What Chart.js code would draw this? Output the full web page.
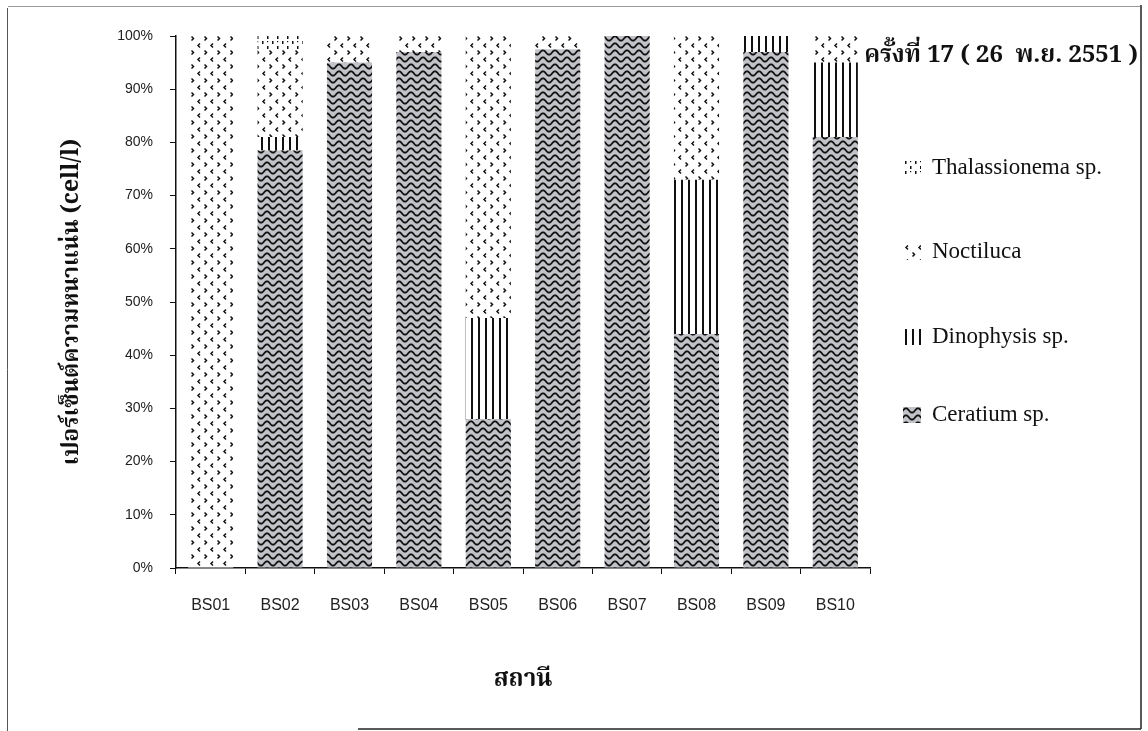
<!DOCTYPE html>
<html>
<head>
<meta charset="utf-8">
<script src="https://cdn.jsdelivr.net/npm/chart.js@4"></script>
<style>
  html, body { margin: 0; padding: 0; background: #fff; }
  #wrap { position: relative; width: 1148px; height: 731px; }
</style>
</head>
<body>
<div id="wrap"><canvas id="chart" width="1148" height="731"></canvas></div>
<script>
// สถานี และค่าร้อยละของแต่ละชนิด (อ่านจากกราฟ)
const stations = ['BS01', 'BS02', 'BS03', 'BS04', 'BS05', 'BS06', 'BS07', 'BS08', 'BS09', 'BS10'];
const ceratium = [0, 78.5, 95, 97, 28, 97.5, 100, 44, 97, 81];
const dinophysis = [0, 2.5, 0, 0, 19, 0, 0, 29, 3, 14];
const noctiluca = [100, 16.5, 5, 3, 53, 2.5, 0, 27, 0, 5];
const thalassionema = [0, 2.5, 0, 0, 0, 0, 0, 0, 0, 0];
const seriesNames = ['Ceratium sp.', 'Dinophysis sp.', 'Noctiluca', 'Thalassionema sp.'];

const chartTitle = 'ครั้งที่ 17 ( 26  พ.ย. 2551 )';
const yTitle = 'เปอร์เซ็นต์ความหนาแน่น (cell/l)';
const xTitle = 'สถานี';

const thaiFont = "'Noto Serif Thai','Noto Sans Thai','Norasi','Garuda','Loma','Liberation Serif',serif";
const serifFont = "'Liberation Serif','Times New Roman',serif";
const sansFont = "'Liberation Sans',Arial,sans-serif";

const ctx = document.getElementById('chart').getContext('2d');

// ลายเติมแท่ง (hatch patterns)
function makePattern(w, h, bg, draw) {
  const c = document.createElement('canvas');
  c.width = w; c.height = h;
  const g = c.getContext('2d');
  g.fillStyle = bg;
  g.fillRect(0, 0, w, h);
  g.strokeStyle = '#111';
  g.fillStyle = '#111';
  draw(g);
  return ctx.createPattern(c, 'repeat');
}

const wavePattern = makePattern(12, 7, '#c2c3c8', g => {
  g.lineWidth = 1.8;
  g.beginPath();
  for (let x = -1; x <= 13; x += 0.5) {
    const y = 3.5 - 2.2 * Math.sin(2 * Math.PI * x / 12);
    if (x === -1) g.moveTo(x, y); else g.lineTo(x, y);
  }
  g.stroke();
});

const linePattern = makePattern(7, 4, '#ffffff', g => {
  g.fillRect(2, 0, 2, 4);
});

const chevronPattern = makePattern(13, 14, '#ffffff', g => {
  g.lineWidth = 1.5;
  g.beginPath();
  g.moveTo(5, 1.5); g.lineTo(3, 3.5); g.lineTo(5, 5.5);
  g.moveTo(9.5, 8.5); g.lineTo(11.5, 10.5); g.lineTo(9.5, 12.5);
  g.stroke();
});

const dashPattern = makePattern(10, 10, '#ffffff', g => {
  g.fillRect(2, 1, 1.5, 3);
  g.fillRect(7, 6, 1.5, 3);
  g.fillRect(7, 1, 1.2, 1.2);
});

const fills = [wavePattern, linePattern, chevronPattern, dashPattern];
const seriesData = [ceratium, dinophysis, noctiluca, thalassionema];

const framePlugin = {
  id: 'frame',
  beforeDraw(chart) {
    const c = chart.ctx;
    c.save();
    c.fillStyle = '#fff';
    c.fillRect(0, 0, chart.width, chart.height);
    c.strokeStyle = '#999';
    c.lineWidth = 1;
    c.beginPath(); c.moveTo(8, 6.5); c.lineTo(1140, 6.5); c.stroke();
    c.strokeStyle = '#555';
    c.beginPath(); c.moveTo(7.5, 8); c.lineTo(7.5, 731); c.stroke();
    c.strokeStyle = '#222';
    c.lineWidth = 1.5;
    c.beginPath(); c.moveTo(1141, 5); c.lineTo(1141, 729); c.stroke();
    c.beginPath(); c.moveTo(358, 729); c.lineTo(1141, 729); c.stroke();
    c.restore();
  }
};

const legendPlugin = {
  id: 'sideLegend',
  afterDraw(chart) {
    const c = chart.ctx;
    c.save();
    c.fillStyle = '#111';
    c.font = 'bold 24px ' + thaiFont;
    c.textAlign = 'right';
    c.textBaseline = 'middle';
    c.fillText(chartTitle, 1138, 58);

    const ys = [168, 252, 337, 415];
    const order = [3, 2, 1, 0];
    c.font = '23px ' + serifFont;
    c.textAlign = 'left';
    order.forEach((di, i) => {
      const ds = chart.data.datasets[di];
      c.save();
      c.translate(903, ys[i] - 8);
      c.fillStyle = ds.backgroundColor;
      c.fillRect(0, 0, 18, 16);
      c.restore();
      c.fillStyle = '#111';
      c.fillText(ds.label, 932, ys[i]);
    });
    c.restore();
  }
};

new Chart(ctx, {
  type: 'bar',
  data: {
    labels: stations,
    datasets: seriesData.map((d, i) => ({
      label: seriesNames[i],
      data: d,
      backgroundColor: fills[i],
      borderWidth: 0,
      barPercentage: 0.65,
      categoryPercentage: 1
    }))
  },
  options: {
    responsive: false,
    animation: false,
    devicePixelRatio: 1,
    layout: { padding: { top: 36, right: 278, left: 40, bottom: 20 } },
    plugins: {
      legend: { display: false },
      tooltip: { enabled: false }
    },
    scales: {
      x: {
        stacked: true,
        grid: { display: true, drawOnChartArea: false, drawTicks: true, tickLength: 6, color: '#111', offset: true },
        border: { display: true, color: '#111', width: 1.5 },
        ticks: { color: '#222', font: { family: sansFont, size: 16 }, padding: 22, maxRotation: 0 },
        title: { display: true, text: xTitle, color: '#111', font: { family: thaiFont, size: 24, weight: 'bold' }, padding: { bottom: 15 } },
        afterFit(scale) { scale.height = 143; }
      },
      y: {
        stacked: true,
        min: 0,
        max: 100,
        grid: { display: true, drawOnChartArea: false, drawTicks: true, tickLength: 6, color: '#111' },
        border: { display: true, color: '#111', width: 1.5 },
        ticks: { stepSize: 10, color: '#222', font: { family: sansFont, size: 14 }, padding: 17, callback: v => v + '%' },
        title: { display: true, text: yTitle, color: '#111', font: { family: thaiFont, size: 23, weight: 'bold' }, padding: { top: 20 } },
        afterFit(scale) { scale.width = 136; }
      }
    }
  },
  plugins: [framePlugin, legendPlugin]
});
</script>
</body>
</html>
